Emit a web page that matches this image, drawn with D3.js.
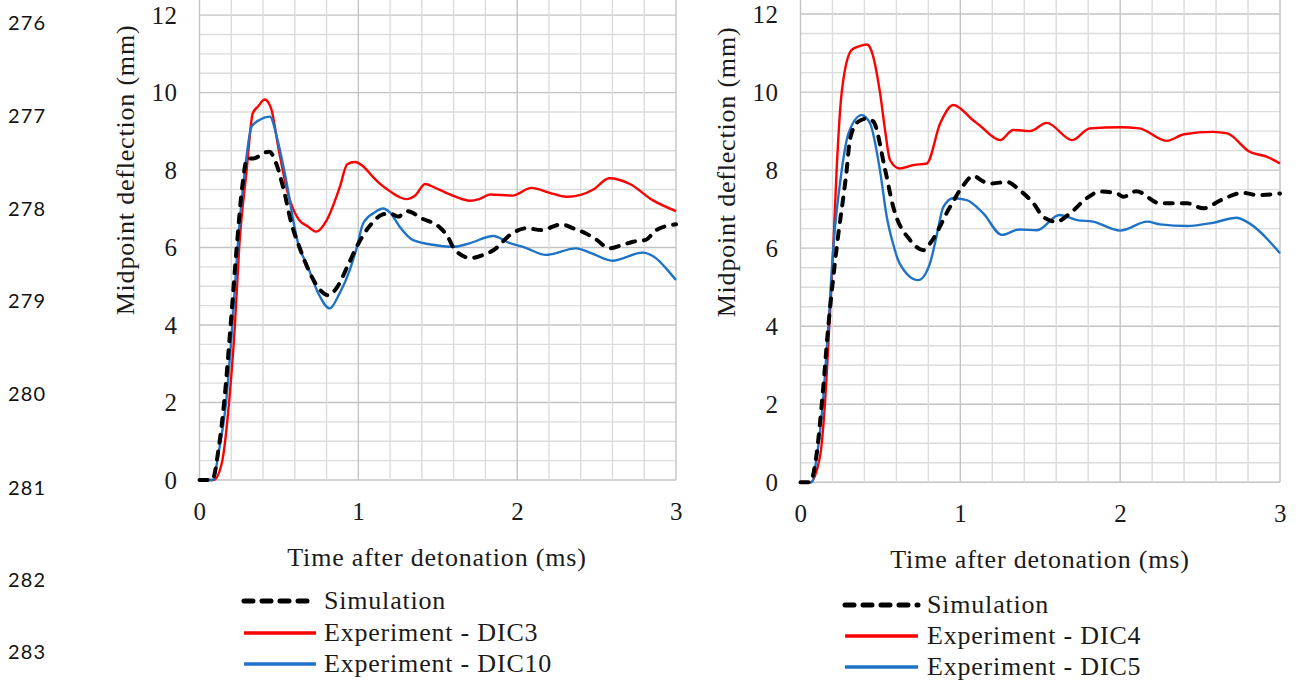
<!DOCTYPE html>
<html><head><meta charset="utf-8">
<script src="https://cdn.jsdelivr.net/npm/d3@7"></script>
<style>
html,body{margin:0;padding:0;background:#fff;}
svg{display:block;}
</style></head>
<body>
<svg id="chart" width="1296" height="680"></svg>
<script>
// ---------- DATA ----------
const xTicks = [0, 1, 2, 3];
const yTicks = [0, 2, 4, 6, 8, 10, 12];
const lineNumbers = ["276", "277", "278", "279", "280", "281", "282", "283"];
const xLabel = "Time after detonation (ms)";
const yLabel = "Midpoint deflection (mm)";
const leftLegend = ["Simulation", "Experiment - DIC3", "Experiment - DIC10"];
const rightLegend = ["Simulation", "Experiment - DIC4", "Experiment - DIC5"];

// [time (ms), deflection (mm)]
const leftSim = [[0,0],[0.08,0],[0.12,0.8],[0.155,2],[0.196,4],[0.234,6],[0.27,7.6],[0.3,8.3],[0.34,8.3],[0.37,8.35],[0.41,8.45],[0.44,8.47],[0.48,8.2],[0.53,7.5],[0.58,6.6],[0.63,6.0],[0.7,5.3],[0.76,4.9],[0.81,4.77],[0.87,5.0],[0.93,5.5],[1.0,6.1],[1.08,6.6],[1.15,6.85],[1.2,6.88],[1.25,6.8],[1.31,6.94],[1.4,6.75],[1.51,6.53],[1.56,6.3],[1.61,5.93],[1.71,5.73],[1.78,5.8],[1.85,5.93],[1.97,6.37],[2.06,6.5],[2.15,6.45],[2.28,6.6],[2.35,6.5],[2.43,6.37],[2.5,6.2],[2.58,5.98],[2.65,6.05],[2.73,6.15],[2.81,6.2],[2.875,6.45],[3.0,6.6]];
const leftRed = [[0,0],[0.09,0],[0.14,0.43],[0.186,2],[0.223,4],[0.25,6],[0.297,8],[0.335,9.46],[0.37,9.65],[0.41,9.82],[0.45,9.6],[0.5,8.5],[0.55,7.5],[0.6,6.9],[0.63,6.7],[0.68,6.55],[0.737,6.41],[0.8,6.7],[0.884,7.57],[0.93,8.15],[0.98,8.21],[1.03,8.1],[1.09,7.83],[1.135,7.65],[1.2,7.45],[1.26,7.3],[1.3,7.25],[1.36,7.35],[1.42,7.64],[1.48,7.55],[1.55,7.42],[1.62,7.3],[1.7,7.21],[1.76,7.25],[1.83,7.37],[1.97,7.34],[2.09,7.54],[2.2,7.42],[2.31,7.31],[2.4,7.36],[2.48,7.5],[2.58,7.79],[2.71,7.64],[2.85,7.23],[3.0,6.94]];
const leftBlue = [[0,0],[0.085,0],[0.12,0.7],[0.167,2],[0.207,4],[0.24,6],[0.286,8],[0.328,9.12],[0.38,9.3],[0.443,9.38],[0.49,8.8],[0.533,8],[0.628,6],[0.674,5.59],[0.75,4.8],[0.82,4.43],[0.88,4.8],[0.946,5.42],[0.99,6],[1.03,6.62],[1.1,6.9],[1.156,7.01],[1.2,6.9],[1.26,6.54],[1.345,6.19],[1.49,6.06],[1.6,6.02],[1.7,6.11],[1.85,6.3],[1.95,6.12],[2.05,6.0],[2.18,5.81],[2.37,5.98],[2.47,5.85],[2.6,5.66],[2.79,5.87],[2.875,5.72],[2.94,5.45],[3.0,5.16]];

const rightSim = [[0,0],[0.06,0],[0.1,0.7],[0.133,2],[0.174,4],[0.226,6],[0.289,8],[0.31,8.8],[0.36,9.24],[0.414,9.32],[0.455,9.25],[0.53,8],[0.58,7.06],[0.685,6.21],[0.77,5.95],[0.81,6.12],[0.936,7.06],[1.02,7.62],[1.08,7.85],[1.15,7.7],[1.2,7.66],[1.29,7.7],[1.37,7.49],[1.457,7.15],[1.52,6.8],[1.6,6.68],[1.686,6.89],[1.79,7.28],[1.874,7.45],[1.98,7.4],[2.02,7.32],[2.1,7.46],[2.25,7.15],[2.42,7.15],[2.52,7.02],[2.63,7.23],[2.77,7.42],[2.855,7.36],[3.0,7.4]];
const rightRed = [[0,0],[0.06,0],[0.122,0.66],[0.153,2.02],[0.18,4],[0.205,6],[0.226,8],[0.258,10],[0.32,11.08],[0.37,11.18],[0.414,11.22],[0.44,11.1],[0.497,10],[0.53,9],[0.56,8.26],[0.62,8.04],[0.706,8.13],[0.79,8.17],[0.874,9.2],[0.956,9.67],[1.08,9.28],[1.12,9.15],[1.25,8.77],[1.33,9.03],[1.436,9.0],[1.54,9.21],[1.7,8.77],[1.81,9.07],[2.0,9.1],[2.12,9.07],[2.29,8.75],[2.4,8.92],[2.58,8.98],[2.67,8.94],[2.81,8.47],[2.92,8.34],[3.0,8.17]];
const rightBlue = [[0,0],[0.07,0],[0.1,0.6],[0.139,2],[0.174,4],[0.205,6],[0.258,8],[0.3,8.94],[0.383,9.41],[0.435,9.2],[0.497,8],[0.54,6.8],[0.58,6.1],[0.62,5.61],[0.737,5.18],[0.81,5.61],[0.85,6.29],[0.894,7.06],[0.956,7.28],[1.04,7.23],[1.144,6.89],[1.26,6.34],[1.37,6.48],[1.48,6.46],[1.62,6.85],[1.73,6.72],[1.83,6.68],[2.0,6.45],[2.17,6.68],[2.25,6.61],[2.42,6.57],[2.58,6.65],[2.73,6.78],[2.79,6.68],[3.0,5.87]];

// ---------- STYLE ----------
const SERIF = "Liberation Serif";
const RED = "#ff0000", BLUE = "#1f73c6", BLACK = "#000";
const MAJOR = "#c3c3c3", MINOR = "#dcdcdc";

const svg = d3.select("#chart");

// line numbers
const lnY = [22, 115, 208, 300, 393, 487, 579, 651];
svg.append("g").selectAll("text").data(lineNumbers).join("text")
  .attr("x", 8).attr("y", (d, i) => lnY[i])
  .attr("dominant-baseline", "central")
  .attr("font-family", "Lato")
  .attr("font-size", 20).attr("letter-spacing", 1.2)
  .attr("fill", "#111").text(d => d);

function serifText(sel, size, ls) {
  sel.attr("font-family", SERIF).attr("font-size", size).attr("letter-spacing", ls).attr("fill", "#1a1a1a");
}

function drawChart(cfg) {
  const x = d3.scaleLinear().domain([0, 3]).range([cfg.x0, cfg.x3]);
  const y = d3.scaleLinear().domain([0, cfg.ytop]).range([cfg.y0, 0]);
  const g = svg.append("g");

  // grid
  const vMinor = d3.range(0, 3.0001, 0.2).map(v => +v.toFixed(2));
  const hMinor = d3.range(0, 12.0001, 0.5);
  g.append("g").selectAll("line").data(hMinor).join("line")
    .attr("x1", x(0)).attr("x2", x(3))
    .attr("y1", d => y(d)).attr("y2", d => y(d))
    .attr("stroke", d => (d % 2 === 0) ? MAJOR : MINOR)
    .attr("stroke-width", 1.4);
  g.append("g").selectAll("line").data(vMinor).join("line")
    .attr("x1", d => x(d)).attr("x2", d => x(d))
    .attr("y1", y(0)).attr("y2", y(cfg.ytop))
    .attr("stroke", d => (Math.abs(d - Math.round(d)) < 1e-6) ? MAJOR : MINOR)
    .attr("stroke-width", 1.4);

  // axes tick labels via d3 axes
  const yAxis = d3.axisLeft(y).tickValues(yTicks).tickSize(0).tickPadding(cfg.yPad).tickFormat(d3.format("d"));
  const ya = g.append("g").attr("transform", `translate(${x(0)},0)`).call(yAxis);
  const xAxis = d3.axisBottom(x).tickValues(xTicks).tickSize(0).tickPadding(cfg.xPad).tickFormat(d3.format("d"));
  const xa = g.append("g").attr("transform", `translate(0,${y(0)})`).call(xAxis);
  [ya, xa].forEach(a => {
    a.attr("font-family", SERIF).attr("font-size", 25);
    a.select(".domain").remove();
    a.selectAll("text").call(serifText, 25, 0.5);
  });

  // axis titles
  g.append("text").attr("x", cfg.xlabX).attr("y", cfg.xlabY)
    .attr("text-anchor", "middle").call(serifText, 26, 0.8).text(xLabel);
  g.append("text").attr("transform", `translate(${cfg.ylabX},${cfg.ylabY}) rotate(-90)`)
    .attr("text-anchor", "middle").call(serifText, 26, 0.8).text(yLabel);

  // lines
  const line = d3.line().x(d => x(d[0])).y(d => y(d[1])).curve(d3.curveMonotoneX);
  g.append("path").datum(cfg.red).attr("d", line).attr("fill", "none")
    .attr("stroke", RED).attr("stroke-width", 2.4).attr("stroke-linejoin", "round");
  g.append("path").datum(cfg.blue).attr("d", line).attr("fill", "none")
    .attr("stroke", BLUE).attr("stroke-width", 2.4).attr("stroke-linejoin", "round");
  g.append("path").datum(cfg.sim).attr("d", line).attr("fill", "none")
    .attr("stroke", BLACK).attr("stroke-width", 4).attr("stroke-dasharray", "8,9")
    .attr("stroke-linecap", "round").attr("stroke-linejoin", "round");

  // legend
  const lg = g.append("g");
  const styles = [
    {c: BLACK, w: 5, dash: "9,9", cap: "round"},
    {c: RED, w: 3.6, dash: null, cap: "butt"},
    {c: BLUE, w: 3.6, dash: null, cap: "butt"}
  ];
  cfg.legend.forEach((label, i) => {
    const ly = cfg.legY[i];
    const s = styles[i];
    const ln = lg.append("line").attr("x1", cfg.legX1).attr("x2", cfg.legX2)
      .attr("y1", ly).attr("y2", ly).attr("stroke", s.c).attr("stroke-width", s.w)
      .attr("stroke-linecap", s.cap);
    if (s.dash) ln.attr("stroke-dasharray", s.dash);
    lg.append("text").attr("x", cfg.legTX).attr("y", ly + 8).call(serifText, 26, 0.8).text(label);
  });
}

drawChart({
  x0: 199.5, x3: 676, y0: 480, ytop: 12.39, yPad: 22, xPad: 22,
  xlabX: 437, xlabY: 566, ylabX: 134, ylabY: 170,
  sim: leftSim, red: leftRed, blue: leftBlue,
  legend: leftLegend, legX1: 244, legX2: 316, legTX: 324, legY: [601, 633, 664]
});
drawChart({
  x0: 800.5, x3: 1280, y0: 482.3, ytop: 12.36, yPad: 22, xPad: 22,
  xlabX: 1040, xlabY: 568, ylabX: 735, ylabY: 172,
  sim: rightSim, red: rightRed, blue: rightBlue,
  legend: rightLegend, legX1: 845, legX2: 918, legTX: 927, legY: [605, 636, 667]
});
</script>
</body></html>
